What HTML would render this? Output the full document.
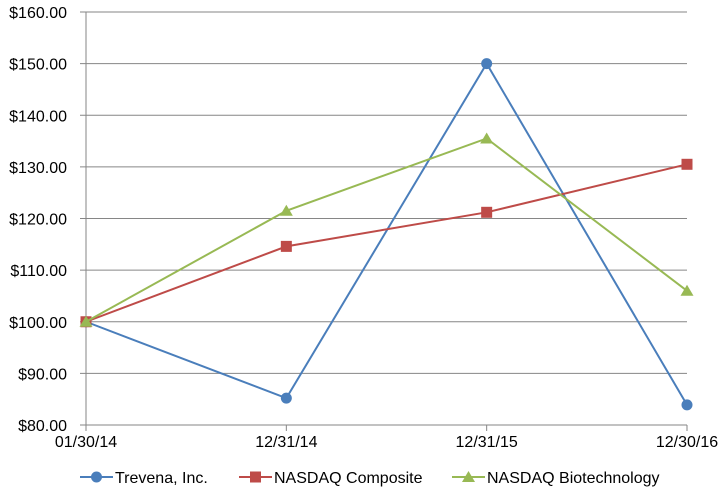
<!DOCTYPE html>
<html><head><meta charset="utf-8"><style>
body{margin:0;background:#fff;font-family:"Liberation Sans",Arial,sans-serif}
svg text{font-family:"Liberation Sans",Arial,sans-serif;font-size:16px;fill:#000}
</style></head><body>
<svg id="chart" width="726" height="494" xmlns="http://www.w3.org/2000/svg"></svg>
<script>
const categories = ["01/30/14","12/31/14","12/31/15","12/30/16"];
const trevena = [100, 85.2, 150, 83.9];
const nasdaqComposite = [100, 114.6, 121.2, 130.5];
const nasdaqBiotech = [100, 121.5, 135.5, 106];
const yTicks = [80,90,100,110,120,130,140,150,160];
const seriesNames = ["Trevena, Inc.","NASDAQ Composite","NASDAQ Biotechnology"];

const svg = document.getElementById('chart');
const NS = 'http://www.w3.org/2000/svg';
const X0=86, X1=687, Y0=425, Y1=12;
function xs(i){return X0 + i*(X1-X0)/(categories.length-1);}
function ys(v){return Y0 - (v-80)*(Y0-Y1)/80;}
function mk(tag, attrs, parent){const e=document.createElementNS(NS,tag);for(const k in attrs)e.setAttribute(k,attrs[k]);(parent||svg).appendChild(e);return e;}

yTicks.forEach(t=>{
  const l=mk('line',{x1:X0,x2:X1,y1:ys(t),y2:ys(t),stroke:'#868686','stroke-width':1});
  
  
  const tk=mk('line',{x1:X0-6,x2:X0,y1:ys(t),y2:ys(t),stroke:'#868686','stroke-width':1});
  
  
  const tx=mk('text',{x:67,y:ys(t)+6,'text-anchor':'end'});
  tx.textContent='$'+t.toFixed(2);
  
  
});
const ax=mk('line',{x1:X0,x2:X0,y1:Y1,y2:Y0,stroke:'#868686','stroke-width':1});


categories.forEach((c,i)=>{
  const tk=mk('line',{x1:xs(i),x2:xs(i),y1:Y0,y2:Y0+6,stroke:'#868686'});
  
  
  const tx=mk('text',{x:xs(i),y:447,'text-anchor':'middle'});
  tx.textContent=c;
  
  
});

function marker(g,type,x,y,color){
  let m;
  if(type==='circle') m=mk('circle',{cx:x,cy:y,r:5.5,fill:color},g);
  else if(type==='square') m=mk('rect',{x:x-5.5,y:y-5.5,width:11,height:11,fill:color},g);
  else m=mk('polygon',{points:`${x},${y-6} ${x+6.5},${y+5} ${x-6.5},${y+5}`,fill:color},g);
  
  
}
const series=[[trevena,'#4a7ebb','circle'],[nasdaqComposite,'#be4b48','square'],[nasdaqBiotech,'#98b954','triangle']];
series.forEach(([vals,color,type],si)=>{
  const g=mk('g',{});
  
  
  const pl=mk('polyline',{points:vals.map((v,i)=>xs(i)+','+ys(v)).join(' '),fill:'none',stroke:color,'stroke-width':2},g);
  
  
  vals.forEach((v,i)=>marker(g,type,xs(i),ys(v),color));
});
const legX=[80,239,452];
series.forEach(([vals,color,type],si)=>{
  const g=mk('g',{});
  
  
  mk('line',{x1:legX[si],x2:legX[si]+33,y1:477,y2:477,stroke:color,'stroke-width':2},g);
  marker(g,type,legX[si]+16.5,477,color);
  const tx=mk('text',{x:legX[si]+35,y:483},g);
  tx.textContent=seriesNames[si];
});
</script>
</body></html>
